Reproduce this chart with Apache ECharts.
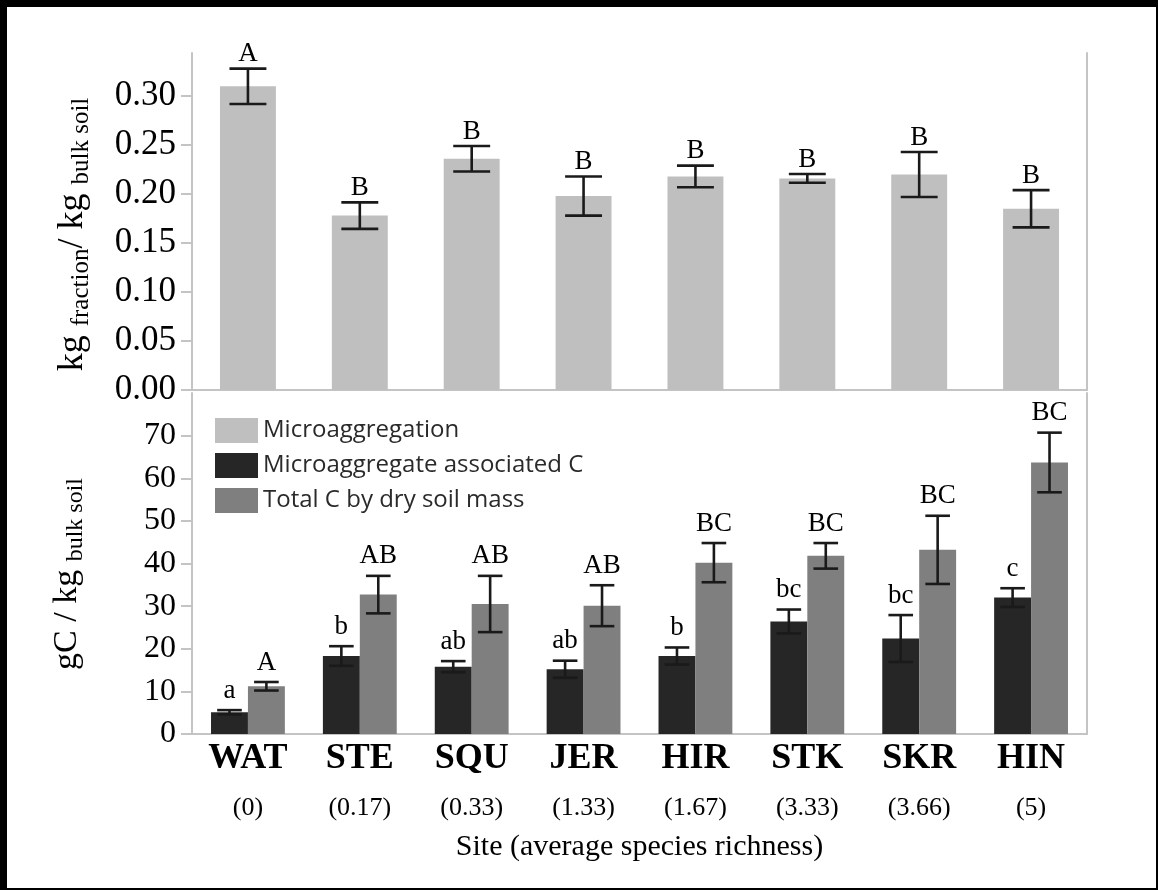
<!DOCTYPE html>
<html><head><meta charset="utf-8">
<script src="https://cdn.jsdelivr.net/npm/echarts@6/dist/echarts.min.js"></script>
<style>html,body{margin:0;padding:0;background:#fff}#c{width:1158px;height:890px}</style>
</head><body><div id="c"></div>
<script>
const sites = ['WAT','STE','SQU','JER','HIR','STK','SKR','HIN'];
const richness = ['0','0.17','0.33','1.33','1.67','3.33','3.66','5'];
const microaggregation = [0.310,0.178,0.236,0.198,0.218,0.216,0.220,0.185];
const microaggregationErr = [0.018,0.0135,0.013,0.020,0.011,0.0045,0.023,0.019];
const microaggregationLetters = ['A','B','B','B','B','B','B','B'];
const assocC = [5.1,18.3,15.8,15.2,18.3,26.4,22.4,32.0];
const assocCErr = [0.5,2.3,1.3,2.0,2.0,2.8,5.5,2.2];
const assocCLetters = ['a','b','ab','ab','b','bc','bc','c'];
const totalC = [11.2,32.7,30.5,30.1,40.2,41.8,43.2,63.7];
const totalCErr = [1.0,4.4,6.6,4.8,4.6,3.0,8.0,7.0];
const totalCLetters = ['A','AB','AB','AB','BC','BC','BC','BC'];
const topTicks = [0,0.05,0.10,0.15,0.20,0.25,0.30];
const bottomTicks = [0,10,20,30,40,50,60,70];

const SERIF = '"Liberation Serif", "Times New Roman", serif';
const AXIS_COLOR = '#c4c4c4';

function errorSeries(name, means, errs, letters, gi, offsetFrac, capFrac, textGap) {
  return {
    type: 'custom', name: name, xAxisIndex: gi, yAxisIndex: gi * 2, z: 10, silent: true,
    data: means.map((m, i) => [i, m, errs[i]]),
    encode: { x: 0, y: 1 },
    renderItem: function (params, api) {
      const i = api.value(0), m = api.value(1), e = api.value(2);
      const band = api.size([1, 0])[0];
      const x = api.coord([i, m])[0] + band * offsetFrac;
      const yT = api.coord([i, m + e])[1];
      const yB = api.coord([i, m - e])[1];
      const hw = band * capFrac / 2;
      const st = { stroke: '#1a1a1a', lineWidth: 2.6 };
      return {
        type: 'group', children: [
          { type: 'line', shape: { x1: x, y1: yT, x2: x, y2: yB }, style: st },
          { type: 'line', shape: { x1: x - hw, y1: yT, x2: x + hw, y2: yT }, style: st },
          { type: 'line', shape: { x1: x - hw, y1: yB, x2: x + hw, y2: yB }, style: st },
          { type: 'text', x: x, y: yT - textGap, style: {
              text: letters[params.dataIndex], fill: '#000', fontSize: 27, fontFamily: SERIF,
              align: 'center', verticalAlign: 'bottom' } }
        ]
      };
    }
  };
}

const chart = echarts.init(document.getElementById('c'));
chart.setOption({
  backgroundColor: '#fff',
  animation: false,
  grid: [
    { left: 192, right: 71, top: 53, height: 337 },
    { left: 192, right: 71, top: 393, height: 341 }
  ],
  legend: {
    data: ['Microaggregation', 'Microaggregate associated C', 'Total C by dry soil mass'],
    orient: 'vertical', left: 210, top: 413, itemWidth: 43, itemHeight: 25, itemGap: 10,
    icon: 'rect', selectedMode: false,
    textStyle: { fontFamily: '"Open Sans", sans-serif', fontSize: 24, color: '#2a2a2a' }
  },
  xAxis: [
    { type: 'category', gridIndex: 0, data: sites,
      axisLine: { lineStyle: { color: AXIS_COLOR, width: 2 } },
      axisTick: { show: false }, axisLabel: { show: false } },
    { type: 'category', gridIndex: 1, data: sites,
      axisLine: { lineStyle: { color: AXIS_COLOR, width: 2 } },
      axisTick: { show: false },
      axisLabel: {
        interval: 0, margin: 4,
        formatter: (v, i) => '{a|' + v + '}\n{b|(' + richness[i] + ')}',
        rich: {
          a: { fontFamily: SERIF, fontWeight: 'bold', fontSize: 36, lineHeight: 42, color: '#000' },
          b: { fontFamily: SERIF, fontSize: 26, lineHeight: 56, color: '#000' }
        }
      },
      name: 'Site (average species richness)', nameLocation: 'middle', nameGap: 98,
      nameTextStyle: { fontFamily: SERIF, fontSize: 30, color: '#000' }
    }
  ],
  yAxis: [
    { type: 'value', gridIndex: 0, min: 0, max: 0.344,
      axisLine: { show: true, lineStyle: { color: AXIS_COLOR, width: 2 } },
      axisTick: { show: true, length: 11, customValues: topTicks, lineStyle: { color: AXIS_COLOR, width: 2 } },
      axisLabel: { customValues: topTicks, formatter: v => v.toFixed(2), margin: 16,
        fontFamily: SERIF, fontSize: 35, color: '#000' },
      splitLine: { show: false },
      name: '{m|kg }{s|fraction}{m|/ kg }{s|bulk soil}', nameLocation: 'middle', nameRotate: 90, nameGap: 98,
      nameTextStyle: { padding: [0, 26, 0, 0], rich: {
        m: { fontFamily: SERIF, fontSize: 36, lineHeight: 42, color: '#000' },
        s: { fontFamily: SERIF, fontSize: 25, lineHeight: 20, verticalAlign: 'bottom', color: '#000' } } }
    },
    { type: 'value', gridIndex: 0, position: 'right', min: 0, max: 0.344,
      axisLine: { show: true, lineStyle: { color: AXIS_COLOR, width: 2 } },
      axisTick: { show: false }, axisLabel: { show: false }, splitLine: { show: false } },
    { type: 'value', gridIndex: 1, min: 0, max: 80,
      axisLine: { show: true, lineStyle: { color: AXIS_COLOR, width: 2 } },
      axisTick: { show: true, length: 11, customValues: bottomTicks, lineStyle: { color: AXIS_COLOR, width: 2 } },
      axisLabel: { customValues: bottomTicks, margin: 16, fontFamily: SERIF, fontSize: 32, color: '#000' },
      splitLine: { show: false },
      name: '{m|gC / kg }{s|bulk soil}', nameLocation: 'middle', nameRotate: 90, nameGap: 104,
      nameTextStyle: { padding: [0, 21, 0, 0], rich: {
        m: { fontFamily: SERIF, fontSize: 34, lineHeight: 42, color: '#000' },
        s: { fontFamily: SERIF, fontSize: 24, lineHeight: 20, verticalAlign: 'bottom', color: '#000' } } }
    },
    { type: 'value', gridIndex: 1, position: 'right', min: 0, max: 80,
      axisLine: { show: true, lineStyle: { color: AXIS_COLOR, width: 2 } },
      axisTick: { show: false }, axisLabel: { show: false }, splitLine: { show: false } }
  ],
  series: [
    { type: 'bar', name: 'Microaggregation', xAxisIndex: 0, yAxisIndex: 0, data: microaggregation,
      barWidth: '50%', itemStyle: { color: '#bfbfbf' }, silent: true },
    { type: 'bar', name: 'Microaggregate associated C', xAxisIndex: 1, yAxisIndex: 2, data: assocC,
      barWidth: '33%', barGap: '0%', itemStyle: { color: '#262626' }, silent: true },
    { type: 'bar', name: 'Total C by dry soil mass', xAxisIndex: 1, yAxisIndex: 2, data: totalC,
      barWidth: '33%', barGap: '0%', itemStyle: { color: '#7f7f7f' }, silent: true },
    errorSeries('err0', microaggregation, microaggregationErr, microaggregationLetters, 0, 0, 0.33, 1),
    errorSeries('err1', assocC, assocCErr, assocCLetters, 1, -0.165, 0.22, 6),
    errorSeries('err2', totalC, totalCErr, totalCLetters, 1, 0.165, 0.22, 6)
  ],
  graphic: [
    { type: 'rect', shape: { x: 1, y: 1, width: 1156, height: 888 }, style: { fill: 'none', stroke: '#000', lineWidth: 2 } },
    { type: 'rect', shape: { x: 2, y: 2, width: 5, height: 886 }, style: { fill: '#000' } },
    { type: 'rect', shape: { x: 2, y: 2, width: 1154, height: 5 }, style: { fill: '#000' } }
  ]
});
</script></body></html>
